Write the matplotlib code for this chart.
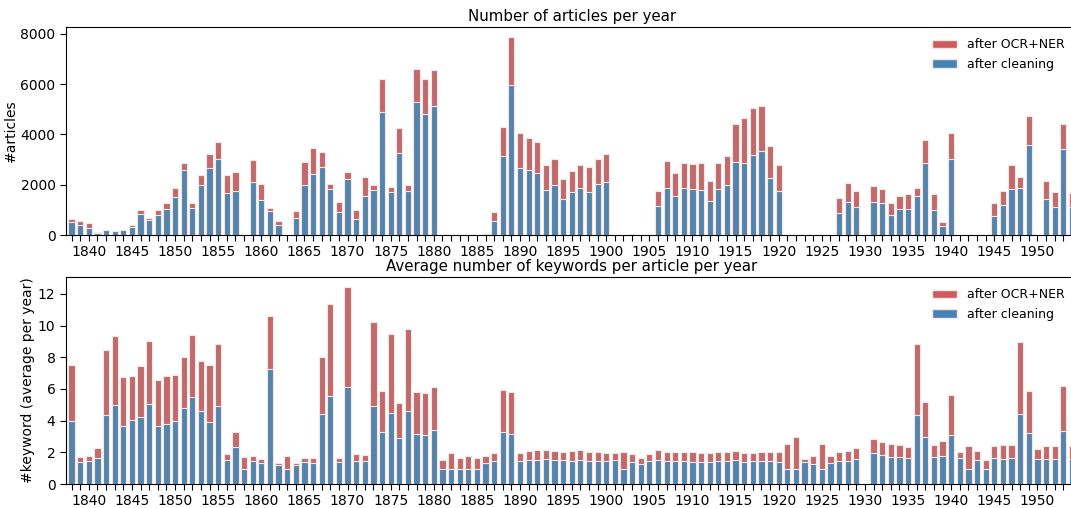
import matplotlib
matplotlib.use("Agg")
import matplotlib.pyplot as plt
from matplotlib.patches import Patch
import numpy as np

years = list(range(1838, 1955))

# Number of articles per year
articles_ocr = [
    627, 560, 467, 100, 205, 165, 218, 387, 987, 680,      # 1838-1847
    987, 1280, 1853, 2880, 1267, 2400, 3227, 3707, 2387, 2507,  # 1848-1857
    0, 2987, 2013, 1093, 547, 0, 947, 2893, 3480, 3307,   # 1858-1867
    2027, 1320, 2507, 987, 2307, 2000, 6213, 1920, 4240, 1973,  # 1868-1877
    6587, 6213, 6573, 0, 0, 0, 0, 0, 20, 907,              # 1878-1887
    4280, 7880, 4040, 3853, 3707, 2800, 3040, 2227, 2533, 2800,  # 1888-1897
    2693, 3040, 3240, 0, 0, 20, 0, 0, 1760, 2960,          # 1898-1907
    2467, 2867, 2827, 2867, 2160, 2867, 3160, 4427, 4653, 5040,  # 1908-1917
    5120, 3533, 2800, 0, 0, 0, 0, 15, 0, 1467,             # 1918-1927
    2067, 1760, 0, 1947, 1840, 1267, 1560, 1640, 1853, 3787,  # 1928-1937
    1613, 533, 4040, 0, 0, 0, 0, 1267, 1760, 2800,         # 1938-1947
    2307, 4720, 0, 2147, 1720, 4400, 1667,                 # 1948-1954
]
articles_clean = [
    507, 400, 293, 93, 200, 160, 213, 333, 827, 587,
    813, 1053, 1520, 2573, 1080, 1987, 2680, 3013, 1653, 1733,
    0, 2107, 1400, 973, 387, 0, 693, 2000, 2413, 2693,
    1813, 907, 2227, 653, 1560, 1787, 4907, 1693, 3267, 1747,
    5293, 4813, 5120, 0, 0, 0, 0, 0, 15, 547,
    3160, 5960, 2680, 2600, 2467, 1800, 1987, 1427, 1720, 1853,
    1720, 2013, 2120, 0, 0, 15, 0, 0, 1147, 1853,
    1547, 1853, 1827, 1787, 1360, 1827, 1987, 2920, 2853, 3173,
    3333, 2267, 1747, 0, 0, 0, 0, 10, 0, 880,
    1307, 1133, 0, 1320, 1267, 813, 1040, 1053, 1547, 2880,
    1013, 347, 3013, 0, 0, 0, 0, 773, 1187, 1840,
    1853, 3573, 0, 1413, 1120, 3413, 1133,
]

# Average number of keywords per article per year
keywords_ocr = [
    7.49, 1.68, 1.77, 2.25, 8.44, 9.31, 6.74, 6.84, 7.43, 9.05,
    6.57, 6.84, 6.91, 8.02, 9.43, 7.79, 7.49, 8.86, 1.92, 3.26,
    1.68, 1.79, 1.60, 10.59, 1.35, 1.77, 1.31, 1.66, 1.62, 8.04,
    11.33, 1.66, 12.44, 1.87, 1.85, 10.21, 5.87, 9.47, 5.09, 9.79,
    5.83, 5.73, 6.15, 1.54, 1.94, 1.62, 1.77, 1.66, 1.79, 1.98,
    5.94, 5.83, 1.98, 2.08, 2.17, 2.17, 2.08, 2.00, 2.06, 2.13,
    2.00, 2.04, 1.98, 1.94, 2.02, 1.92, 1.66, 1.92, 2.13, 2.04,
    2.04, 2.02, 2.02, 1.94, 1.94, 2.04, 2.02, 2.08, 1.97, 1.98,
    2.02, 2.04, 2.04, 2.53, 2.95, 1.58, 1.79, 2.53, 1.79, 2.02,
    2.08, 2.29, 0.00, 2.82, 2.65, 2.51, 2.48, 2.36, 8.82, 5.20,
    2.44, 2.74, 5.62, 2.02, 2.38, 2.08, 1.54, 2.40, 2.46, 2.44,
    8.99, 5.85, 2.21, 2.40, 2.40, 6.21, 2.40,
]
keywords_clean = [
    3.96, 1.39, 1.45, 1.66, 4.36, 5.01, 3.64, 4.04, 4.23, 5.05,
    3.68, 3.77, 4.00, 4.80, 5.49, 4.59, 3.89, 4.91, 1.54, 2.36,
    0.97, 1.45, 1.31, 7.26, 1.22, 0.97, 1.22, 1.37, 1.31, 4.40,
    5.54, 1.37, 6.13, 1.45, 1.45, 4.93, 3.26, 4.48, 2.88, 4.61,
    3.16, 3.09, 3.43, 0.97, 0.97, 0.97, 0.97, 0.97, 1.31, 1.45,
    3.26, 3.14, 1.43, 1.49, 1.49, 1.56, 1.49, 1.49, 1.45, 1.49,
    1.45, 1.45, 1.45, 1.49, 0.97, 1.39, 1.28, 1.43, 1.49, 1.45,
    1.45, 1.43, 1.41, 1.41, 1.41, 1.45, 1.45, 1.49, 1.39, 1.43,
    1.43, 1.43, 1.39, 0.95, 0.95, 1.39, 1.26, 0.95, 1.35, 1.43,
    1.43, 1.56, 0.00, 1.98, 1.83, 1.73, 1.71, 1.62, 4.34, 2.99,
    1.68, 1.75, 3.12, 1.62, 0.95, 1.52, 0.95, 1.66, 1.60, 1.64,
    4.42, 3.22, 1.58, 1.58, 1.60, 3.35, 1.58,
]

tick_labels = [str(y) if y % 5 == 0 else "" for y in years]

RED_BAR = "#c26a6a"
BLUE_BAR = "#5484ab"
RED = "#cd5c5c"
BLUE = "#4682b4"
EDGE = "#f2e6e6"

fig = plt.figure(figsize=(10.71, 5.08), dpi=100)
ax_top = fig.add_axes([0.0616, 0.5374, 0.9445, 0.4094])
ax_bot = fig.add_axes([0.0616, 0.0472, 0.9445, 0.4075])

panels = [
    (ax_top, articles_ocr, articles_clean, "Number of articles per year", "#articles"),
    (ax_bot, keywords_ocr, keywords_clean,
     "Average number of keywords per article per year", "#keyword (average per year)"),
]

for ax, ocr, clean, title, ylabel in panels:
    ax.bar(years, ocr, width=0.72, color=RED_BAR, edgecolor=EDGE, linewidth=0.8)
    ax.bar(years, clean, width=0.72, color=BLUE_BAR, edgecolor=EDGE, linewidth=0.8)
    ax.set_xlim(1837.35, 1954.65)
    ax.set_xticks(years)
    ax.set_xticklabels(tick_labels, fontsize=10)
    ax.tick_params(axis="y", labelsize=10)
    ax.tick_params(axis="both", length=4)
    ax.set_title(title, fontsize=10.8, pad=4)
    ax.set_ylabel(ylabel, fontsize=10, labelpad=2)
    handles = [Patch(facecolor=RED, edgecolor=EDGE, label="after OCR+NER"),
               Patch(facecolor=BLUE, edgecolor=EDGE, label="after cleaning")]
    ax.legend(handles=handles, loc="upper right", frameon=False, fontsize=9,
              bbox_to_anchor=(0.998, 1.0))

ax_top.set_yticks([0, 2000, 4000, 6000, 8000])
ax_bot.set_yticks([0, 2, 4, 6, 8, 10, 12])

fig.savefig("out.png", dpi=100)
